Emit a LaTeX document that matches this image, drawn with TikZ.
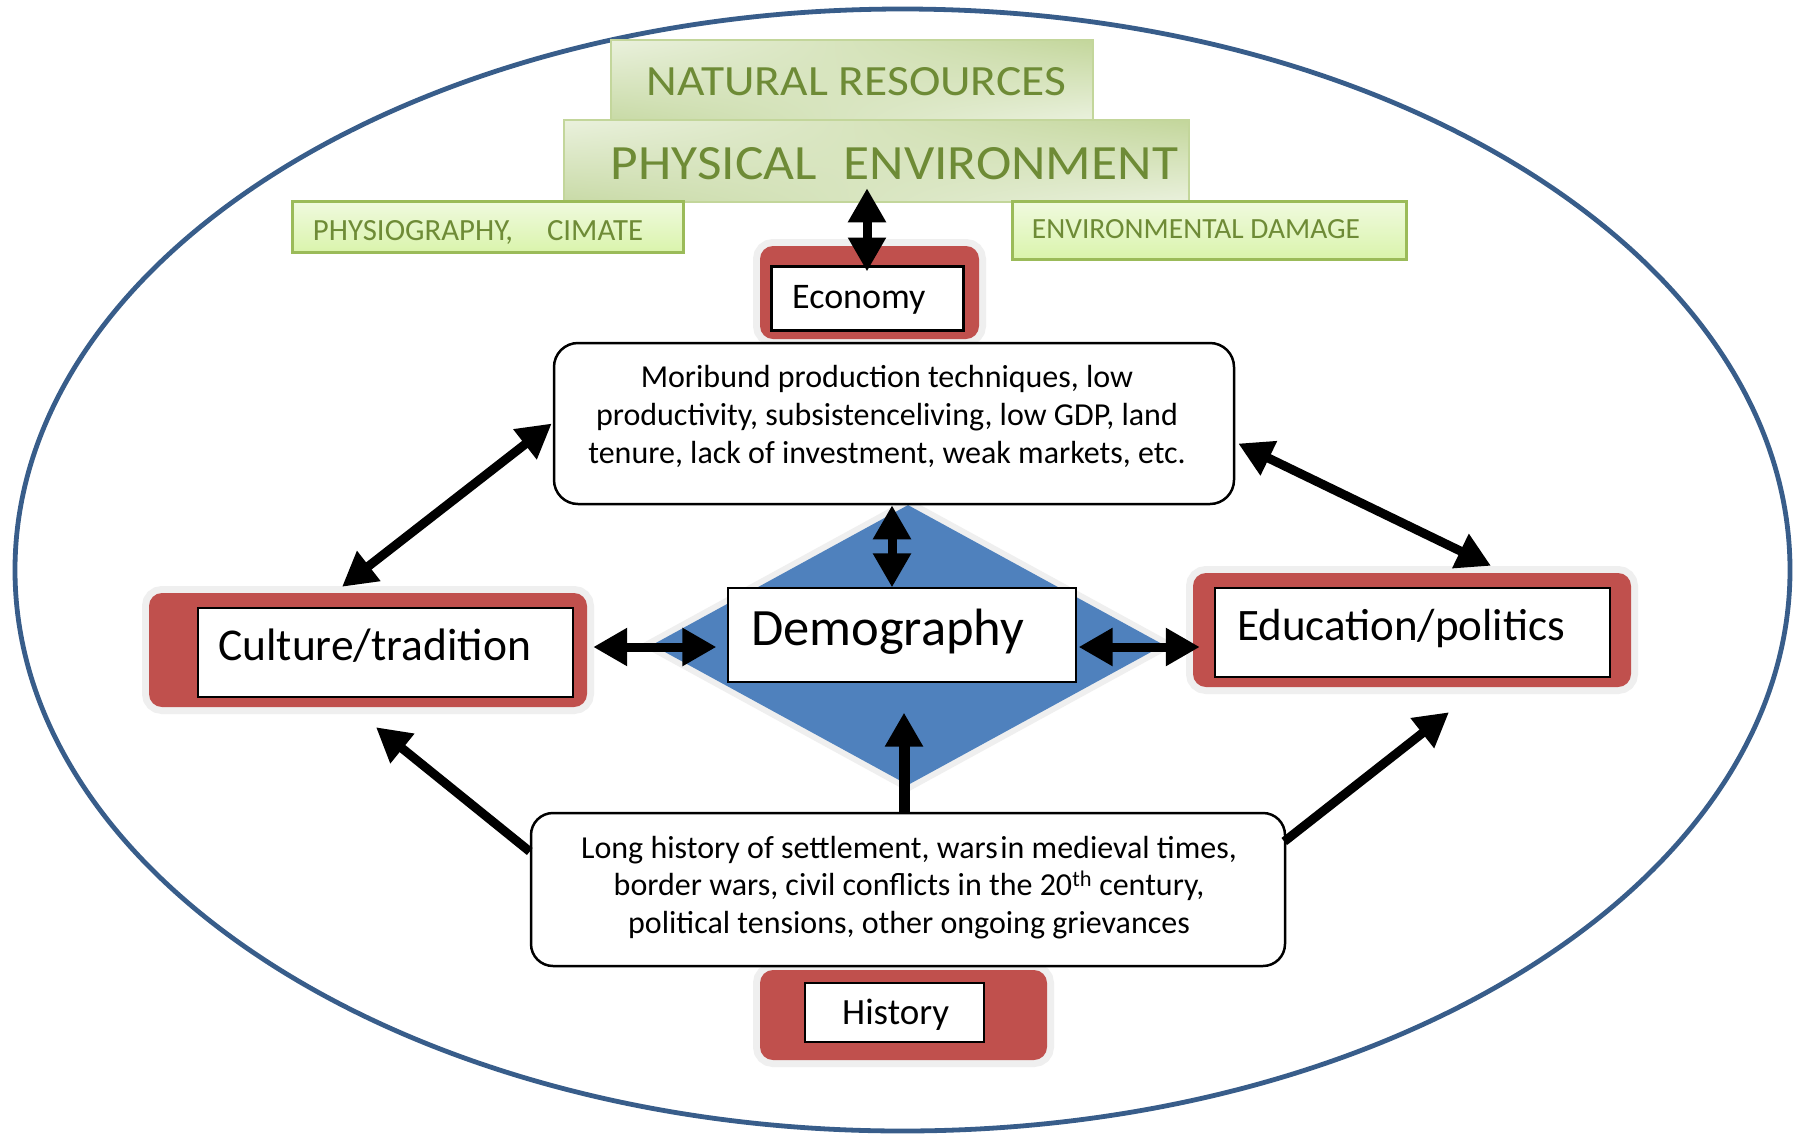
\documentclass[tikz,border=0pt]{standalone}
\usepackage{fontspec}
\setmainfont{Carlito}
\usepackage{graphicx}
\usetikzlibrary{arrows.meta,shapes.geometric,calc,shadings}
\definecolor{redc}{HTML}{C0504D}
\definecolor{glowc}{HTML}{EFEFEF}
\definecolor{bluec}{HTML}{4F81BD}
\definecolor{ellc}{HTML}{385D8A}
\definecolor{gtext}{HTML}{6E8B36}
\definecolor{gborder}{HTML}{9BBB59}
\definecolor{glight}{HTML}{EAF1DD}
\definecolor{gmid}{HTML}{C3D69B}
\definecolor{gmid2}{HTML}{C8DAA6}
\definecolor{gtop}{HTML}{F0FADF}
\definecolor{gbot}{HTML}{DAF4AC}
\begin{document}
\begin{tikzpicture}[x=1pt,y=-1pt,
  gbig/.style={draw=gmid, line width=2.5pt, inner sep=0pt,
    upper left=glight, upper right=gmid, lower left=gmid2, lower right=glight},
  gsmall/.style={draw=gborder, line width=3pt, inner sep=0pt, top color=gtop, bottom color=gbot},
  gtxt/.style={text=gtext, inner sep=0pt, anchor=base},
  redbox/.style={fill=redc, rounded corners=13pt, inner sep=0pt,
    preaction={draw=glowc, line width=14pt}},
  innerbox/.style={fill=white, draw=black, line width=2pt, inner sep=0pt},
  roundbox/.style={fill=white, draw=black, line width=2.5pt, rounded corners=24pt, inner sep=0pt},
  lbl/.style={anchor=base west, inner sep=0pt},
  para/.style={anchor=base, inner sep=0pt},
  dblarr/.style={line width=9pt, {Triangle[length=34pt,width=36pt]}-{Triangle[length=34pt,width=36pt]}},
  onearr/.style={line width=9pt, -{Triangle[length=34pt,width=36pt]}}
]
\useasboundingbox (0,0) rectangle (1799,1133);
\fill[white] (0,0) rectangle (1799,1133);

% outer ellipse
\draw[ellc, line width=4.8pt] (902.5,570) ellipse [x radius=887.5, y radius=561];

% green boxes
\node[gbig, minimum width=482pt, minimum height=80pt] (natres) at (852,80) {};
\node[gbig, minimum width=625pt, minimum height=82pt] (physenv) at (876.5,161) {};
\node[gsmall, minimum width=391pt, minimum height=51pt] (physio) at (487.5,226.5) {};
\node[gsmall, minimum width=394pt, minimum height=58pt] (envdam) at (1209,230) {};

\node[gtxt] (natrestxt) at (856.5,95) {\resizebox{419pt}{28pt}{NATURAL RESOURCES}};
\node[gtxt] (physenvtxt) at (894.5,179) {\resizebox{567pt}{32pt}{PHYSICAL\hspace{0.5em}ENVIRONMENT}};
\node[gtxt] (physiotxt) at (478,240) {\resizebox{330pt}{20pt}{PHYSIOGRAPHY,\hspace{1.1em}CIMATE}};
\node[gtxt] (envdamtxt) at (1196,238) {\resizebox{328pt}{19pt}{ENVIRONMENTAL DAMAGE}};

% economy
\node[redbox, minimum width=219pt, minimum height=93pt] (econ) at (869.5,292.5) {};
\node[innerbox, line width=3pt, minimum width=192pt, minimum height=64pt] (econin) at (867,298) {};
\node[lbl, font=\fontsize{36}{43}\selectfont] (econlbl) at (792,308) {Economy};

% demography diamond
\node[diamond, fill=bluec, inner sep=0pt, minimum width=512pt, minimum height=280pt,
  preaction={draw=glowc, line width=12pt}] (diam) at (908,645) {};
\node[fill=white, draw=black, line width=1.2pt, inner sep=0pt, minimum width=348pt, minimum height=94pt] (demo) at (902,635) {};
\node[lbl, font=\fontsize{52.5}{60}\selectfont] (demolbl) at (751,645) {Demography};

% economy text box
\node[roundbox, minimum width=680pt, minimum height=161pt] (econtxt) at (894,423.5) {};
\node[para, font=\fontsize{32}{38}\selectfont] (econpara) at (887,387)
  {\begin{tabular}[t]{@{}c@{}}Moribund production techniques, low\\ productivity, subsistenceliving, low GDP, land\\ tenure, lack of investment, weak markets, etc.\end{tabular}};

% culture
\node[redbox, minimum width=438pt, minimum height=114pt] (cult) at (368,650) {};
\node[innerbox, minimum width=375pt, minimum height=89pt] (cultin) at (385.5,652.5) {};
\node[lbl, font=\fontsize{45.5}{52}\selectfont] (cultlbl) at (218,660) {Culture/tradition};

% education
\node[redbox, minimum width=438pt, minimum height=114pt] (edu) at (1412,630) {};
\node[innerbox, minimum width=395pt, minimum height=89pt] (eduin) at (1412.5,632.5) {};
\node[lbl, font=\fontsize{45}{52}\selectfont] (edulbl) at (1237,640) {Education/politics};

% history
\node[redbox, minimum width=287pt, minimum height=90pt] (hist) at (903.5,1015) {};
\node[innerbox, minimum width=179pt, minimum height=59pt] (histin) at (894.5,1012.5) {};
\node[lbl, font=\fontsize{37}{44}\selectfont] (histlbl) at (842,1024) {History};

\node[roundbox, rounded corners=22pt, minimum width=754pt, minimum height=153pt] (histtxt) at (908,889.5) {};
\node[para, font=\fontsize{32}{37.5}\selectfont] (histpara) at (909,858)
  {\begin{tabular}[t]{@{}c@{}}Long history of settlement, wars\hspace{0.08em}in medieval times,\\ border wars, civil conflicts in the 20\textsuperscript{th} century,\\ political tensions, other ongoing grievances\end{tabular}};

% connectors
\draw[dblarr] ($(econin.north)+(0,7)$) -- ($(econin.north |- physenv.south)+(0,-15)$);
\draw[dblarr] ($(demo.north)+(-10,0)$) -- ($(demo.north |- econtxt.south)+(-10,0)$);
\draw[dblarr] ($(cult.north)+(-26,-6)$) -- ($(econtxt.west)+(-1,0)$);
\draw[dblarr] ($(econtxt.east)+(3,20)$) -- ($(edu.north)+(79,-7)$);
\draw[dblarr] ($(cult.east)+(6,-3)$) -- ($(demo.west)+(-11,12)$);
\draw[dblarr] ($(demo.east)+(2,12)$) -- ($(edu.west)+(7,17)$);
\draw[onearr, line width=11pt] ($(histtxt.north)+(-4,0)$) -- ($(demo.south)+(2,30)$);
\draw[onearr] ($(histtxt.west)+(0,-38)$) -- ($(cult.south)+(8,20)$);
\draw[onearr] ($(histtxt.east)+(-2,-48)$) -- ($(edu.south)+(37,25)$);
\end{tikzpicture}
\end{document}
